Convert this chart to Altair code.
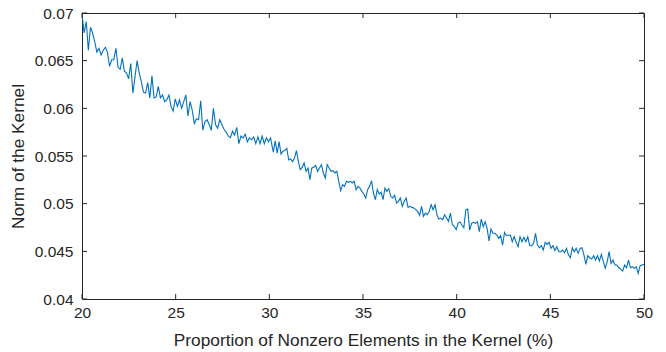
import altair as alt
import numpy as np
import pandas as pd

# Norm of the kernel, in three stretches of the x range
x_range_1 = (20.0, 30.07)
y_20_30 = [0.0699, 0.0679, 0.0691, 0.0661, 0.0685, 0.0679, 0.0670, 0.0659, 0.0663, 0.0656,
           0.0661, 0.0664, 0.0659, 0.0644, 0.0651, 0.0651, 0.0663, 0.0643, 0.0641, 0.0653,
           0.0639, 0.0637, 0.0631, 0.0647, 0.0616, 0.0633, 0.0650, 0.0637, 0.0628, 0.0617,
           0.0616, 0.0627, 0.0611, 0.0634, 0.0611, 0.0612, 0.0623, 0.0611, 0.0614, 0.0607,
           0.0609, 0.0614, 0.0602, 0.0597, 0.0610, 0.0602, 0.0609, 0.0600, 0.0607, 0.0614,
           0.0592, 0.0607, 0.0598, 0.0584, 0.0589, 0.0588, 0.0608, 0.0577, 0.0586, 0.0588,
           0.0583, 0.0577, 0.0600, 0.0583, 0.0579, 0.0588, 0.0583, 0.0578, 0.0575, 0.0571,
           0.0569, 0.0576, 0.0572, 0.0580, 0.0563, 0.0571, 0.0569, 0.0573, 0.0565, 0.0569,
           0.0567, 0.0570, 0.0563, 0.0570, 0.0563, 0.0571, 0.0563, 0.0569, 0.0565, 0.0569]

x_range_2 = (30.11, 40.18)
y_30_40 = [0.05640, 0.05540, 0.05660, 0.05530, 0.05650, 0.05520, 0.05550, 0.05560, 0.05580, 0.05460,
           0.05470, 0.05440, 0.05479, 0.05556, 0.05444, 0.05357, 0.05381, 0.05427, 0.05339, 0.05374,
           0.05252, 0.05374, 0.05381, 0.05402, 0.05339, 0.05374, 0.05409, 0.05322, 0.05269, 0.05409,
           0.05374, 0.05339, 0.05346, 0.05322, 0.05339, 0.05234, 0.05136, 0.05199, 0.05182, 0.05234,
           0.05224, 0.05234, 0.05217, 0.05234, 0.05147, 0.05182, 0.05164, 0.05129, 0.05101, 0.05059,
           0.05147, 0.05182, 0.05241, 0.05112, 0.05042, 0.05147, 0.05101, 0.05122, 0.05042, 0.05164,
           0.05129, 0.05157, 0.05077, 0.05059, 0.05087, 0.05007, 0.05024, 0.05059, 0.04972, 0.05024,
           0.05059, 0.04961, 0.04972, 0.04961, 0.04954, 0.04937, 0.04919, 0.04877, 0.04972, 0.04867,
           0.04902, 0.04884, 0.04919, 0.04989, 0.04937, 0.04989, 0.04884, 0.04839, 0.04849, 0.04832,
           0.04884, 0.04849, 0.04814, 0.04902, 0.04779, 0.04762, 0.04727, 0.04797, 0.04807]

x_range_3 = (40.28, 50.0)
y_40_50 = [0.04776, 0.04748, 0.04933, 0.04944, 0.04724, 0.04794, 0.04804, 0.04794, 0.04811, 0.04706,
           0.04839, 0.04759, 0.04811, 0.04741, 0.04608, 0.04734, 0.04689, 0.04689, 0.04671, 0.04636,
           0.04664, 0.04566, 0.04699, 0.04664, 0.04671, 0.04671, 0.04601, 0.04654, 0.04594, 0.04549,
           0.04654, 0.04601, 0.04647, 0.04601, 0.04654, 0.04559, 0.04559, 0.04584, 0.04689, 0.04566,
           0.04538, 0.04559, 0.04514, 0.04594, 0.04573, 0.04594, 0.04531, 0.04559, 0.04507, 0.04549,
           0.04496, 0.04496, 0.04514, 0.04486, 0.04531, 0.04461, 0.04433, 0.04538, 0.04496, 0.04531,
           0.04479, 0.04531, 0.04538, 0.04461, 0.04363, 0.04454, 0.04433, 0.04419, 0.04454, 0.04409,
           0.04454, 0.04398, 0.04468, 0.04391, 0.04321, 0.04391, 0.04496, 0.04374, 0.04409, 0.04356,
           0.04356, 0.04328, 0.04314, 0.04293, 0.04356, 0.04328, 0.04409, 0.04328, 0.04339, 0.04321,
           0.04339, 0.04269, 0.04349, 0.04356, 0.04363]

x_ticks = [20, 25, 30, 35, 40, 45, 50]
y_ticks = [0.04, 0.045, 0.05, 0.055, 0.06, 0.065, 0.07]

xs, ys = [], []
for rng, vals in [(x_range_1, y_20_30), (x_range_2, y_30_40), (x_range_3, y_40_50)]:
    xs.extend(np.linspace(rng[0], rng[1], len(vals)).tolist())
    ys.extend(vals)
df = pd.DataFrame({"x": xs, "y": ys})

AX = "#262626"
W, H = 562, 286
x_scale = alt.Scale(domain=[20, 50], nice=False, zero=False)
y_scale = alt.Scale(domain=[0.04, 0.07], nice=False, zero=False)

x_axis = alt.Axis(values=x_ticks, format="d", title="Proportion of Nonzero Elements in the Kernel (%)",
                  ticks=False, domain=False, grid=False, labelFlush=False,
                  labelPadding=6, titlePadding=11)
y_axis = alt.Axis(values=y_ticks, format="~g", title="Norm of the Kernel",
                  ticks=False, domain=False, grid=False, labelFlush=False,
                  labelPadding=9, titlePadding=7)

line = alt.Chart(df).mark_line(color="#0072BD", strokeWidth=1.1, clip=True).encode(
    x=alt.X("x:Q", scale=x_scale, axis=x_axis),
    y=alt.Y("y:Q", scale=y_scale, axis=y_axis),
)

xt = pd.DataFrame({"x": x_ticks})
yt = pd.DataFrame({"y": y_ticks})
TL = 5
tick_bottom = alt.Chart(xt).mark_rule(color=AX, strokeWidth=1).encode(
    x=alt.X("x:Q", scale=x_scale, axis=x_axis), y=alt.value(H), y2=alt.value(H - TL))
tick_top = alt.Chart(xt).mark_rule(color=AX, strokeWidth=1).encode(
    x=alt.X("x:Q", scale=x_scale, axis=x_axis), y=alt.value(0), y2=alt.value(TL))
tick_left = alt.Chart(yt).mark_rule(color=AX, strokeWidth=1).encode(
    y=alt.Y("y:Q", scale=y_scale, axis=y_axis), x=alt.value(0), x2=alt.value(TL))
tick_right = alt.Chart(yt).mark_rule(color=AX, strokeWidth=1).encode(
    y=alt.Y("y:Q", scale=y_scale, axis=y_axis), x=alt.value(W), x2=alt.value(W - TL))

chart = alt.layer(line, tick_bottom, tick_top, tick_left, tick_right).properties(
    width=W, height=H,
    autosize=alt.AutoSizeParams(type="none"),
    padding={"left": 82, "top": 13, "right": 22, "bottom": 53},
    background="white",
).configure_view(stroke=AX, strokeWidth=1).configure_axis(
    labelFont="Liberation Sans", titleFont="Liberation Sans",
    labelFontSize=15.5, titleFontSize=17.3, titleFontWeight="normal",
    labelColor=AX, titleColor=AX,
)

chart.save("out.html", embed_options={"renderer": "svg", "actions": False})
